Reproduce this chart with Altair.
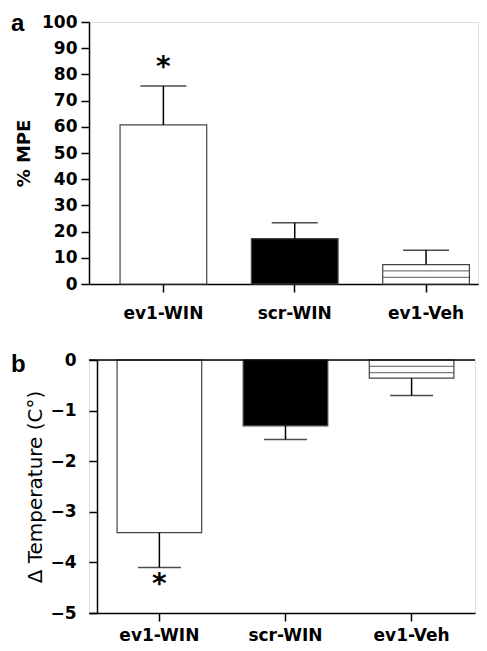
import altair as alt
import pandas as pd

# ---------------- data ----------------
groups = ["ev1-WIN", "scr-WIN", "ev1-Veh"]
fills = ["white", "black", "white"]

mpe_mean = [60.7, 17.3, 7.4]
mpe_upper = [75.6, 23.4, 12.9]
mpe_stripes = [2.5, 5.0]          # horizontal hatch lines in ev1-Veh bar
mpe_star_group = ["ev1-WIN"]
mpe_star_value = [84.0]

temp_mean = [-3.41, -1.30, -0.36]
temp_lower = [-4.10, -1.57, -0.70]
temp_stripes = [-0.125, -0.25]
temp_star_group = ["ev1-WIN"]
temp_star_value = [-4.36]

mpe_ticks = [0, 10, 20, 30, 40, 50, 60, 70, 80, 90, 100]
temp_ticks = [0, -1, -2, -3, -4, -5]

FONT = "DejaVu Sans"
LFONT = "Liberation Sans"

# ---------------- helpers ----------------
def x_enc(scale, label_pad):
    return alt.X(
        "group:N", sort=groups, title=None, scale=scale,
        axis=alt.Axis(labelAngle=0, labelFont=FONT, labelFontWeight="bold",
                      labelFontSize=17, labelColor="black", labelPadding=label_pad,
                      tickSize=8, tickColor="black", tickWidth=1.5,
                      domainColor="black", domainWidth=1.5, grid=False),
    )


def y_enc(field, domain, ticks, title, offset, label_pad, title_pad, title_weight, title_size):
    return alt.Y(
        field, title=title,
        scale=alt.Scale(domain=domain, nice=False, zero=False),
        axis=alt.Axis(values=ticks, grid=False, offset=offset,
                      labelFont=FONT, labelFontWeight="bold", labelFontSize=17,
                      labelColor="black", labelPadding=label_pad,
                      tickSize=8, tickColor="black", tickWidth=1.5,
                      domainColor="black", domainWidth=1.5,
                      titleFont=FONT, titleFontWeight=title_weight,
                      titleFontSize=title_size, titleColor="black",
                      titlePadding=title_pad),
    )


# ---------------- panel a ----------------
df_a = pd.DataFrame({"group": groups, "mean": mpe_mean, "upper": mpe_upper, "fill": fills})
df_a_str = pd.DataFrame({"group": ["ev1-Veh"] * len(mpe_stripes), "v": mpe_stripes})
df_a_star = pd.DataFrame({"group": mpe_star_group, "s": mpe_star_value})
df_lab_a = pd.DataFrame({"t": ["a"]})

sc_a = alt.Scale(domain=groups, paddingInner=0.34, paddingOuter=0.151, align=0.783)
xa = x_enc(sc_a, 13)

def ya(field):
    return y_enc(field, [0, 100], mpe_ticks, "% MPE", 0, 4, 8, "bold", 18)

bars_a = alt.Chart(df_a).mark_bar(stroke="#444", strokeWidth=1.2).encode(
    x=xa, y=ya("mean:Q"), fill=alt.Fill("fill:N", scale=None))
err_a = alt.Chart(df_a).mark_rule(color="black", strokeWidth=1.5).encode(
    x=xa, y=ya("mean:Q"), y2="upper:Q")
cap_a = alt.Chart(df_a).mark_tick(color="black", thickness=1.5, size=46).encode(
    x=xa, y=ya("upper:Q"))
str_a = alt.Chart(df_a_str).mark_tick(color="#444", thickness=1.2, size=86).encode(
    x=xa, y=ya("v:Q"))
star_a = alt.Chart(df_a_star).mark_text(text="*", font=FONT, fontWeight="bold",
                                        fontSize=28, baseline="middle", dy=4).encode(
    x=xa, y=ya("s:Q"))
lab_a = alt.Chart(df_lab_a).mark_text(font=LFONT, fontWeight="bold", fontSize=24,
                                      align="left", baseline="alphabetic").encode(
    text="t:N", x=alt.value(-78), y=alt.value(9))

panel_a = alt.layer(bars_a, str_a, err_a, cap_a, star_a, lab_a).properties(width=389, height=262)

# ---------------- panel b ----------------
df_b = pd.DataFrame({"group": groups, "mean": temp_mean, "lower": temp_lower, "fill": fills})
df_b_str = pd.DataFrame({"group": ["ev1-Veh"] * len(temp_stripes), "v": temp_stripes})
df_b_star = pd.DataFrame({"group": temp_star_group, "s": temp_star_value})
df_zero = pd.DataFrame({"z": [0]})
df_lab_b = pd.DataFrame({"t": ["b"]})

sc_b = alt.Scale(domain=groups, paddingInner=0.329, paddingOuter=0.195, align=0.571)
xb = x_enc(sc_b, 6)

def yb(field):
    return y_enc(field, [-5, 0], temp_ticks, "Δ Temperature (C°)", -8, 13, 4, "normal", 20)

bars_b = alt.Chart(df_b).mark_bar(stroke="#444", strokeWidth=1.2).encode(
    x=xb, y=yb("mean:Q"), fill=alt.Fill("fill:N", scale=None))
err_b = alt.Chart(df_b).mark_rule(color="black", strokeWidth=1.5).encode(
    x=xb, y=yb("mean:Q"), y2="lower:Q")
cap_b = alt.Chart(df_b).mark_tick(color="black", thickness=1.5, size=43).encode(
    x=xb, y=yb("lower:Q"))
str_b = alt.Chart(df_b_str).mark_tick(color="#444", thickness=1.2, size=84).encode(
    x=xb, y=yb("v:Q"))
zero_b = alt.Chart(df_zero).mark_rule(color="black", strokeWidth=1.5).encode(
    y=yb("z:Q"))
star_b = alt.Chart(df_b_star).mark_text(text="*", font=FONT, fontWeight="bold",
                                        fontSize=28, baseline="middle", dy=4).encode(
    x=xb, y=yb("s:Q"))
lab_b = alt.Chart(df_lab_b).mark_text(font=LFONT, fontWeight="bold", fontSize=24,
                                      align="left", baseline="alphabetic").encode(
    text="t:N", x=alt.value(-78), y=alt.value(12))

panel_b = alt.layer(bars_b, str_b, err_b, cap_b, zero_b, star_b, lab_b).properties(width=386, height=253)

chart = alt.vconcat(panel_a, panel_b, spacing=28).properties(
    padding={"left": 2, "top": 3, "right": 0, "bottom": 0}
).configure_view(stroke=None).configure(background="white")

chart.save("out.html", embed_options={"renderer": "svg", "actions": False})
